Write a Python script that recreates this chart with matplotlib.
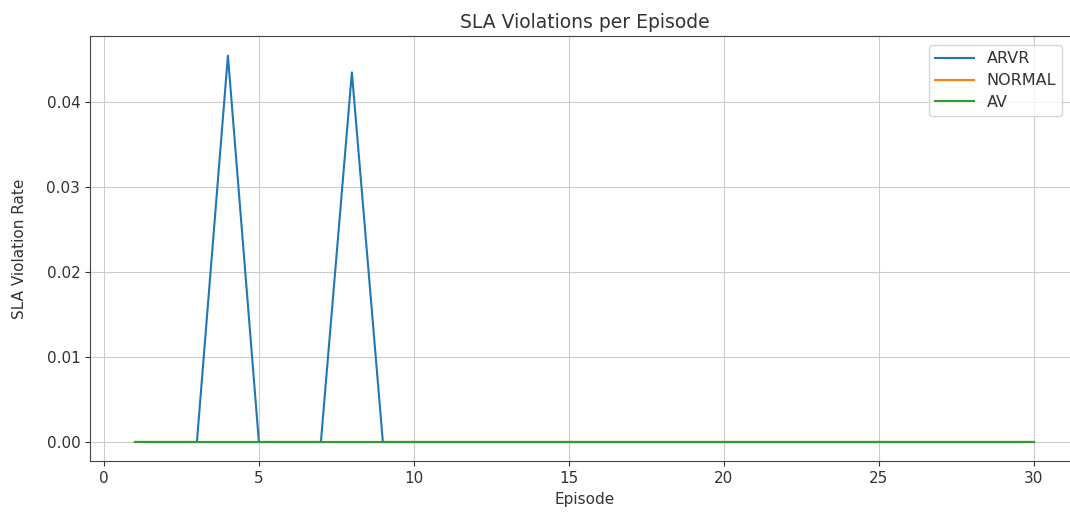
import matplotlib
matplotlib.use("Agg")
import matplotlib.pyplot as plt

episodes = list(range(1, 31))
arvr = [0.0, 0.0, 0.0, 0.04545, 0.0, 0.0, 0.0, 0.04348, 0.0, 0.0,
        0.0, 0.0, 0.0, 0.0, 0.0, 0.0, 0.0, 0.0, 0.0, 0.0,
        0.0, 0.0, 0.0, 0.0, 0.0, 0.0, 0.0, 0.0, 0.0, 0.0]
normal = [0.0] * 30
av = [0.0] * 30

plt.rcParams["text.color"] = "#333333"
plt.rcParams["axes.labelcolor"] = "#333333"
plt.rcParams["xtick.color"] = "#333333"
plt.rcParams["ytick.color"] = "#333333"
plt.rcParams["axes.edgecolor"] = "#444444"

fig = plt.figure(figsize=(10.7, 5.13), dpi=100)
ax = fig.add_axes([0.0841, 0.1008, 0.924, 0.8284])

ax.plot(episodes, arvr, label="ARVR")
ax.plot(episodes, normal, label="NORMAL")
ax.plot(episodes, av, label="AV")

ax.set_title("SLA Violations per Episode", fontsize=13.5)
ax.set_xlabel("Episode", fontsize=11)
ax.set_ylabel("SLA Violation Rate", fontsize=11, labelpad=14)
ax.set_xticks([0, 5, 10, 15, 20, 25, 30])
ax.set_yticks([0.0, 0.01, 0.02, 0.03, 0.04])
ax.tick_params(labelsize=11)
ax.grid(True, color="#cccccc")
ax.legend(loc="upper left", bbox_to_anchor=(929 / 1070, 1 - 45 / 513),
          bbox_transform=fig.transFigure, borderaxespad=0,
          fontsize=11.5, handlelength=2.4, labelspacing=0.42)

fig.savefig("out.png", dpi=100)
